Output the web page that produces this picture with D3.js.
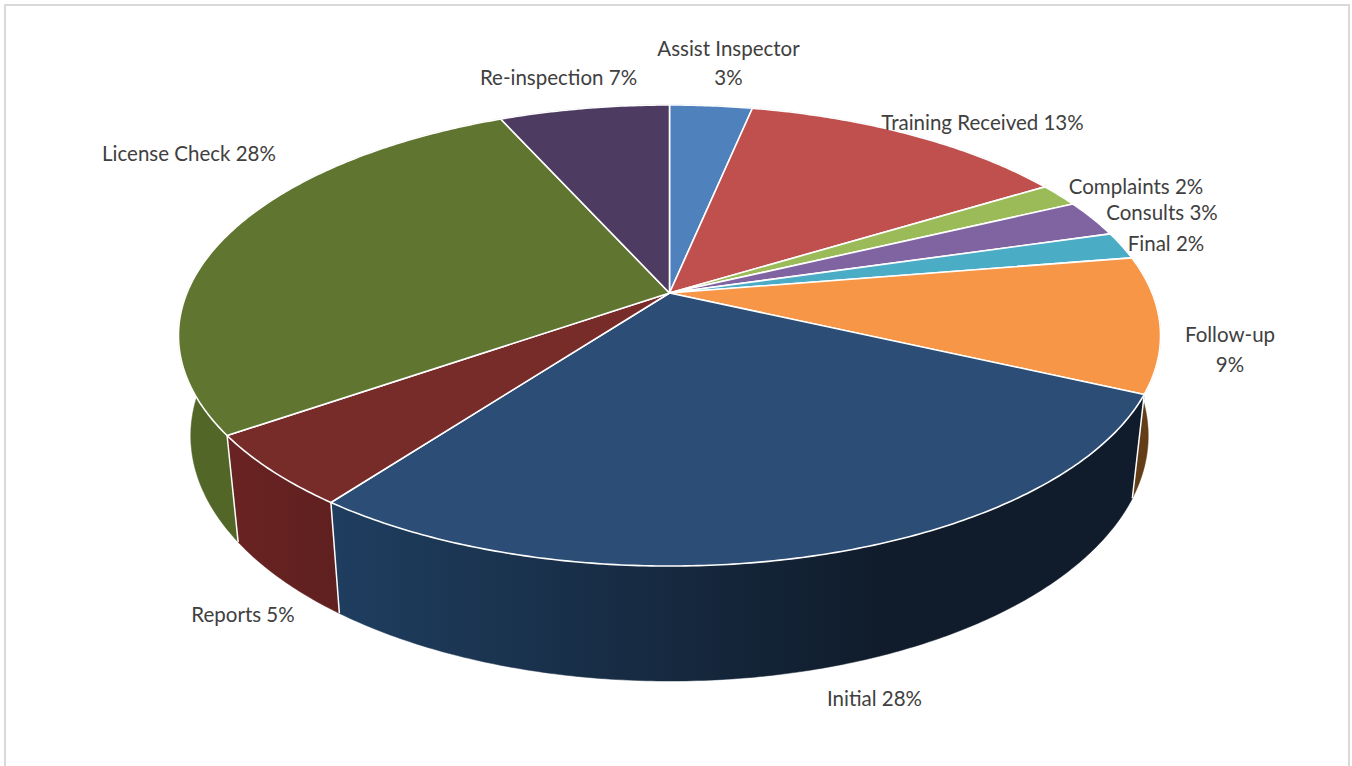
<!DOCTYPE html>
<html><head><meta charset="utf-8">
<script src="https://cdn.jsdelivr.net/npm/d3@7"></script>
<style>html,body{margin:0;padding:0;background:#fff;overflow:hidden}svg{display:block}</style>
</head><body><svg id="c" width="1352" height="766"></svg>
<script>
const categories=["Assist Inspector","Training Received","Complaints","Consults","Final","Follow-up","Initial","Reports","License Check","Re-inspection"];
const shares=[3.25,13,1.65,2.6,1.9,9.5,28.3,5.1,28,6.7];
const percentLabels=["3%","13%","2%","3%","2%","9%","28%","5%","28%","7%"];
const topColors=["#4f81bd","#c0504d","#9bbb59","#8064a2","#4bacc6","#f79646","#2c4d75","#772c2a","#5f7530","#4d3b62"];
const wallColors=["#3f6797","#9a403e","#7c9647","#665082","#3c8a9e","#633c18","#1a3048","#632220","#526627","#3e2f4e"];
// label layout: [centre x, first baseline, second baseline or null]
const labelLayout=[[728.5,56,85],[982.5,130,null],[1136,194,null],[1162,220,null],[1166,251,null],[1230,342,372],[874.5,706,null],[243,622,null],[189,161,null],[558.5,85,null]];

const W=1352,H=766,cx=669.5,cy=293,a=482.6,b=222.7,c=-0.1844;
const svg=d3.select("#c");
const defs=svg.append("defs");
svg.append("rect").attr("x",5).attr("y",5).attr("width",1344).attr("height",770).attr("fill","#fff").attr("stroke","#d9d9d9").attr("stroke-width",2);

const wallGrad=defs.append("linearGradient").attr("id","wallInitial").attr("gradientUnits","userSpaceOnUse").attr("x1",330).attr("x2",880).attr("y1",0).attr("y2",0);
wallGrad.append("stop").attr("offset",0).attr("stop-color","#1f3e60");
wallGrad.append("stop").attr("offset",1).attr("stop-color","#101c2b");
const reportGrad=defs.append("linearGradient").attr("id","wallReports").attr("gradientUnits","userSpaceOnUse").attr("x1",228).attr("x2",340).attr("y1",0).attr("y2",0);
reportGrad.append("stop").attr("offset",0).attr("stop-color","#692322");
reportGrad.append("stop").attr("offset",1).attr("stop-color","#5f201f");

const arcs=d3.pie().sort(null).value(d=>d)(shares);
// perspective projection of the unit disc
function rel(t){const u=Math.sin(t),v=-Math.cos(t),w=1+c*v;return [a*u/w,b*v/w];}
const topPt=t=>{const p=rel(t);return [cx+p[0],cy+p[1]];};
const lowPt=t=>{const p=rel(t);return [cx+0.975*p[0],390.5+1.064*p[1]];};
const samples=(s,e)=>{const n=Math.max(2,Math.ceil((e-s)/0.01));return d3.range(n+1).map(i=>s+(e-s)*i/n);};
const line=d3.line();

const walls=svg.append("g");
arcs.forEach((d,i)=>{
  const ts=samples(d.startAngle,d.endAngle);
  const pts=ts.map(topPt).concat(ts.slice().reverse().map(lowPt));
  const fill=i===6?"url(#wallInitial)":i===7?"url(#wallReports)":wallColors[i];
  walls.append("path").attr("d",line(pts)+"Z").attr("fill",fill).attr("stroke",fill).attr("stroke-width",0.5);
});
arcs.forEach(d=>{
  const t=d.startAngle;
  if(Math.cos(t)<0){
    walls.append("path").attr("d",line([topPt(t),lowPt(t)])).attr("stroke","#fff").attr("stroke-width",1.5).attr("fill","none");
  }
});
const tops=svg.append("g");
arcs.forEach((d,i)=>{
  const pts=[[cx,cy]].concat(samples(d.startAngle,d.endAngle).map(topPt));
  tops.append("path").attr("d",line(pts)+"Z").attr("fill",topColors[i]).attr("stroke","#fff").attr("stroke-width",1.6).attr("stroke-linejoin","round");
});
const labels=svg.append("g").attr("font-family","Lato, 'Open Sans', sans-serif").attr("font-size",20.5).attr("fill","#404040").attr("text-anchor","middle");
categories.forEach((name,i)=>{
  const [x,y1,y2]=labelLayout[i];
  if(y2===null){
    labels.append("text").attr("x",x).attr("y",y1).text(name+" "+percentLabels[i]);
  }else{
    labels.append("text").attr("x",x).attr("y",y1).text(name);
    labels.append("text").attr("x",x).attr("y",y2).text(percentLabels[i]);
  }
});
</script></body></html>
